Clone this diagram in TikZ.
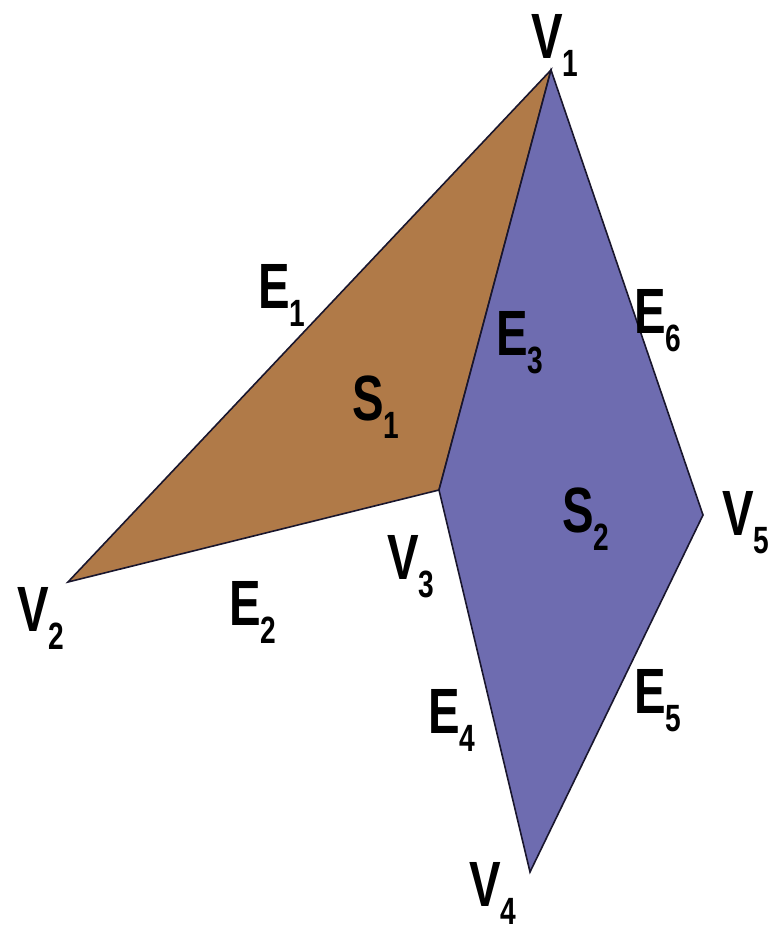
\documentclass[tikz,border=0pt]{standalone}
\usepackage{fontspec}
\newfontfamily\labfont[FakeStretch=0.74]{Liberation Sans}
\newcommand\mylbl[2]{{\labfont\bfseries\fontsize{64}{64}\selectfont #1}\raisebox{-18pt}{\labfont\bfseries\fontsize{38}{38}\selectfont #2}}
\definecolor{brownfill}{RGB}{176,122,72}
\definecolor{purplefill}{RGB}{110,108,176}
\definecolor{edgecol}{RGB}{25,22,45}
\tikzset{
  face/.style={draw=edgecol, line width=1.6pt, line join=miter},
  lab/.style={anchor=base west, inner sep=0pt, outer sep=0pt, text=black}
}
\begin{document}
\begin{tikzpicture}[x=1pt,y=-1pt]
\useasboundingbox (0,0) rectangle (784,932);
\fill[white] (0,0) rectangle (784,932);
\coordinate (V1) at (551,70);
\coordinate (V2) at (68,582);
\coordinate (V3) at (439,490);
\coordinate (V4) at (530,872);
\coordinate (V5) at (703,515);
\filldraw[face, fill=brownfill] (V1) -- (V2) -- (V3) -- cycle;
\filldraw[face, fill=purplefill] (V1) -- (V3) -- (V4) -- (V5) -- cycle;
\node[lab] (lV1) at (531,58) {\mylbl{V}{1}};
\node[lab] (lV2) at (17,631) {\mylbl{V}{2}};
\node[lab] (lV3) at (387,579) {\mylbl{V}{3}};
\node[lab] (lV4) at (469,906) {\mylbl{V}{4}};
\node[lab] (lV5) at (722,535) {\mylbl{V}{5}};
\node[lab] (lE1) at (258,308) {\mylbl{E}{1}};
\node[lab] (lE2) at (229,625) {\mylbl{E}{2}};
\node[lab] (lE3) at (496,355) {\mylbl{E}{3}};
\node[lab] (lE4) at (428,733) {\mylbl{E}{4}};
\node[lab] (lE5) at (634,713) {\mylbl{E}{5}};
\node[lab] (lE6) at (634,333) {\mylbl{E}{6}};
\node[lab] (lS1) at (352,420) {\mylbl{S}{1}};
\node[lab] (lS2) at (562,532) {\mylbl{S}{2}};
\end{tikzpicture}
\end{document}
